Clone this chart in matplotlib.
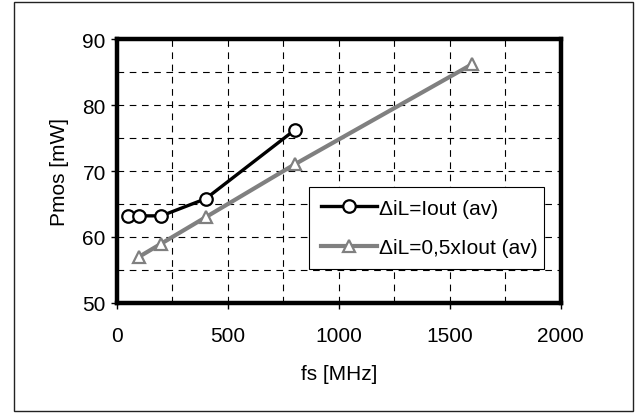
import matplotlib
matplotlib.use("Agg")
import matplotlib.pyplot as plt
import matplotlib.ticker as plticker
from matplotlib.patches import Rectangle

plt.rcParams['font.family'] = ['Liberation Sans', 'DejaVu Sans']

# data
fs_full = [50, 100, 200, 400, 800]
pmos_full = [63.2, 63.2, 63.2, 65.8, 76.2]
fs_half = [100, 200, 400, 800, 1600]
pmos_half = [57.0, 59.0, 63.0, 71.0, 86.2]
label_full = "ΔiL=Iout (av)"
label_half = "ΔiL=0,5xIout (av)"

FS = 15

fig = plt.figure(figsize=(6.41, 4.14), dpi=100)
ax = fig.add_axes([0.1825, 0.266, 0.6925, 0.637])

# outer frame of the picture
fig.patches.append(Rectangle((14/641, 1-412/414), (633-14)/641, (412-3)/414,
                             transform=fig.transFigure, fill=False,
                             edgecolor='#222222', linewidth=1.0))

ax.plot(fs_full, pmos_full, color='black', lw=2.4, marker='o', ms=9,
        mfc='white', mec='black', mew=1.6, label=label_full, zorder=4)
ax.plot(fs_half, pmos_half, color='#808080', lw=3.0, marker='^', ms=9,
        mfc='white', mec='#808080', mew=1.6, label=label_half, zorder=3)

ax.set_xlim(0, 2000)
ax.set_ylim(50, 90)
ax.xaxis.set_major_locator(plticker.MultipleLocator(500))
ax.xaxis.set_minor_locator(plticker.MultipleLocator(250))
ax.yaxis.set_major_locator(plticker.MultipleLocator(10))
ax.yaxis.set_minor_locator(plticker.MultipleLocator(5))
ax.grid(True, which='both', color='black', linestyle=(0, (6, 5)), linewidth=0.8)
ax.set_axisbelow(True)
ax.tick_params(which='major', direction='out', length=4, width=1, labelsize=FS)
ax.tick_params(axis='x', pad=13)
ax.tick_params(axis='y', pad=4)
ax.tick_params(which='minor', length=0)
for s in ax.spines.values():
    s.set_linewidth(3.2)

ax.set_xlabel("fs [MHz]", fontsize=FS, labelpad=13)
ax.set_ylabel("Pmos [mW]", fontsize=FS, labelpad=10)

leg = ax.legend(loc='lower left', bbox_to_anchor=(0.433, 0.129, 0.53, 0.32),
                mode='expand', fontsize=FS, frameon=True, fancybox=False,
                handlelength=2.7, handletextpad=0.1, borderpad=0.55,
                labelspacing=1.0, borderaxespad=0)
leg.get_frame().set_edgecolor('black')
leg.get_frame().set_linewidth(0.8)
leg.get_frame().set_alpha(1)

fig.savefig("out.png", dpi=100)
